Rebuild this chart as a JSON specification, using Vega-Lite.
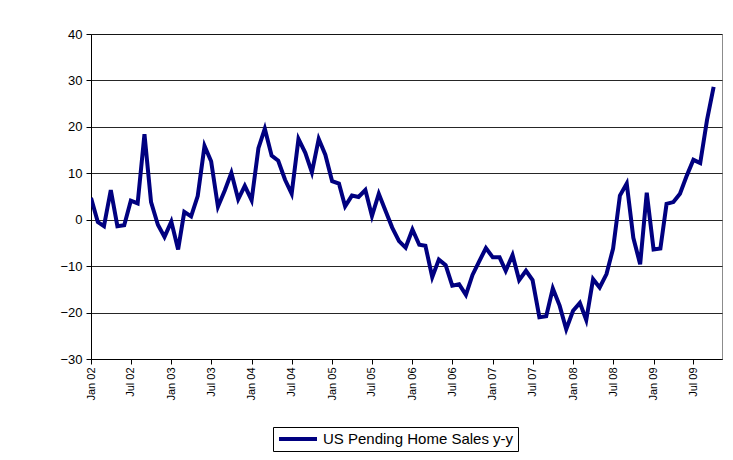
{
  "$schema": "https://vega.github.io/schema/vega-lite/v6.json",
  "autosize": "none",
  "width": 631,
  "height": 325,
  "padding": {"left": 91, "top": 34, "right": 11, "bottom": 101},
  "background": "#ffffff",
  "config": {
    "font": "Liberation Sans",
    "view": {"stroke": "#8c8c8c", "strokeWidth": 1},
    "axis": {"labelFont": "Liberation Sans", "labelColor": "#000", "domainColor": "#000", "tickColor": "#000", "labelFontSize": 12}
  },
  "data": {
    "values": [
      {"date": "2002-01-01", "value": 4.7}, {"date": "2002-02-01", "value": -0.5}, {"date": "2002-03-01", "value": -1.4}, {"date": "2002-04-01", "value": 6.4}, {"date": "2002-05-01", "value": -1.4}, {"date": "2002-06-01", "value": -1.2}, {"date": "2002-07-01", "value": 4.1}, {"date": "2002-08-01", "value": 3.5}, {"date": "2002-09-01", "value": 18.4}, {"date": "2002-10-01", "value": 3.8}, {"date": "2002-11-01", "value": -1.1}, {"date": "2002-12-01", "value": -3.7},
      {"date": "2003-01-01", "value": -0.4}, {"date": "2003-02-01", "value": -6.4}, {"date": "2003-03-01", "value": 1.7}, {"date": "2003-04-01", "value": 0.7}, {"date": "2003-05-01", "value": 5.1}, {"date": "2003-06-01", "value": 15.9}, {"date": "2003-07-01", "value": 12.6}, {"date": "2003-08-01", "value": 2.8}, {"date": "2003-09-01", "value": 6.3}, {"date": "2003-10-01", "value": 10.1}, {"date": "2003-11-01", "value": 4.4}, {"date": "2003-12-01", "value": 7.3},
      {"date": "2004-01-01", "value": 4.2}, {"date": "2004-02-01", "value": 15.4}, {"date": "2004-03-01", "value": 19.6}, {"date": "2004-04-01", "value": 13.8}, {"date": "2004-05-01", "value": 12.7}, {"date": "2004-06-01", "value": 8.6}, {"date": "2004-07-01", "value": 5.6}, {"date": "2004-08-01", "value": 17.4}, {"date": "2004-09-01", "value": 14.4}, {"date": "2004-10-01", "value": 10.2}, {"date": "2004-11-01", "value": 17.4}, {"date": "2004-12-01", "value": 14.0},
      {"date": "2005-01-01", "value": 8.3}, {"date": "2005-02-01", "value": 7.8}, {"date": "2005-03-01", "value": 2.9}, {"date": "2005-04-01", "value": 5.2}, {"date": "2005-05-01", "value": 4.9}, {"date": "2005-06-01", "value": 6.4}, {"date": "2005-07-01", "value": 0.8}, {"date": "2005-08-01", "value": 5.6}, {"date": "2005-09-01", "value": 1.9}, {"date": "2005-10-01", "value": -1.7}, {"date": "2005-11-01", "value": -4.6}, {"date": "2005-12-01", "value": -6.0},
      {"date": "2006-01-01", "value": -2.1}, {"date": "2006-02-01", "value": -5.4}, {"date": "2006-03-01", "value": -5.6}, {"date": "2006-04-01", "value": -12.4}, {"date": "2006-05-01", "value": -8.6}, {"date": "2006-06-01", "value": -9.8}, {"date": "2006-07-01", "value": -14.2}, {"date": "2006-08-01", "value": -13.9}, {"date": "2006-09-01", "value": -16.2}, {"date": "2006-10-01", "value": -11.9}, {"date": "2006-11-01", "value": -8.9}, {"date": "2006-12-01", "value": -6.1},
      {"date": "2007-01-01", "value": -8.1}, {"date": "2007-02-01", "value": -8.1}, {"date": "2007-03-01", "value": -11.0}, {"date": "2007-04-01", "value": -7.6}, {"date": "2007-05-01", "value": -13.0}, {"date": "2007-06-01", "value": -11.0}, {"date": "2007-07-01", "value": -13.0}, {"date": "2007-08-01", "value": -21.0}, {"date": "2007-09-01", "value": -20.8}, {"date": "2007-10-01", "value": -14.8}, {"date": "2007-11-01", "value": -18.5}, {"date": "2007-12-01", "value": -23.6},
      {"date": "2008-01-01", "value": -19.6}, {"date": "2008-02-01", "value": -17.9}, {"date": "2008-03-01", "value": -21.6}, {"date": "2008-04-01", "value": -12.8}, {"date": "2008-05-01", "value": -14.6}, {"date": "2008-06-01", "value": -11.7}, {"date": "2008-07-01", "value": -6.2}, {"date": "2008-08-01", "value": 5.2}, {"date": "2008-09-01", "value": 7.8}, {"date": "2008-10-01", "value": -3.9}, {"date": "2008-11-01", "value": -9.6}, {"date": "2008-12-01", "value": 5.8},
      {"date": "2009-01-01", "value": -6.4}, {"date": "2009-02-01", "value": -6.2}, {"date": "2009-03-01", "value": 3.4}, {"date": "2009-04-01", "value": 3.8}, {"date": "2009-05-01", "value": 5.6}, {"date": "2009-06-01", "value": 9.5}, {"date": "2009-07-01", "value": 12.9}, {"date": "2009-08-01", "value": 12.2}, {"date": "2009-09-01", "value": 21.5}, {"date": "2009-10-01", "value": 28.6}
    ]
  },
  "transform": [{"calculate": "'US Pending Home Sales y-y'", "as": "series"}],
  "mark": {"type": "line", "strokeWidth": 4, "strokeJoin": "miter", "clip": true},
  "encoding": {
    "x": {
      "field": "date",
      "type": "temporal",
      "scale": {"domain": ["2002-01-01T00:00:00", "2009-11-08T00:00:00"]},
      "axis": {
        "title": null,
        "format": "%b %y",
        "tickCount": {"interval": "month", "step": 6},
        "labelAngle": 270,
        "labelAlign": "right",
        "labelBaseline": "middle",
        "labelFontSize": 11,
        "labelPadding": 3,
        "tickSize": 5,
        "grid": false,
        "labelOverlap": false,
        "labelFlush": false
      }
    },
    "y": {
      "field": "value",
      "type": "quantitative",
      "scale": {"domain": [-30, 40], "nice": false},
      "axis": {
        "title": null,
        "values": [-30, -20, -10, 0, 10, 20, 30, 40],
        "tickSize": 5,
        "labelPadding": 4,
        "labelFontSize": 13,
        "grid": true,
        "gridColor": "#000000",
        "gridOpacity": 0.85,
        "gridWidth": 1
      }
    },
    "color": {
      "field": "series",
      "type": "nominal",
      "scale": {"range": ["#000080"]},
      "legend": {
        "title": null,
        "orient": "none",
        "legendX": 182,
        "legendY": 393,
        "symbolType": "stroke",
        "symbolStrokeWidth": 4,
        "symbolSize": 1444,
        "clipHeight": 16,
        "labelLimit": 400,
        "labelFontSize": 15,
        "labelColor": "#000",
        "strokeColor": "#000",
        "padding": 4,
        "labelOffset": 4
      }
    }
  }
}
